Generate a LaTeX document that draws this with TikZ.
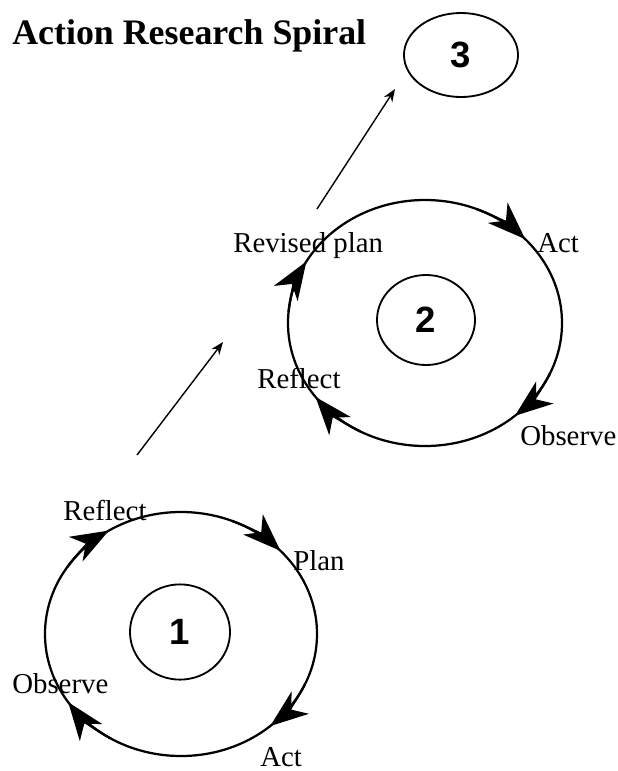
\documentclass[tikz,border=0pt]{standalone}
\usepackage{fontspec}
\setmainfont{Liberation Serif}
\newfontfamily\numfont{Liberation Sans}
\usepackage{tikz}
\usetikzlibrary{
    arrows.meta,
    shapes.geometric,
    positioning
}

\tikzset{
    ring/.style={black, line width=1.6pt},
    cyc/.style={ring, -{Stealth[length=27pt, width=20pt, inset=8pt]}},
    link/.style={black, line width=1pt, -{Stealth[length=9pt, width=7pt]}},
    stage/.style={ellipse, draw, line width=1.3pt, inner sep=0pt, font=\numfont\bfseries\fontsize{26}{30}\selectfont},
    word/.style={inner sep=0pt, anchor=base west, font=\fontsize{20.5}{24}\selectfont}
}

\begin{document}
\begin{tikzpicture}[x=0.025cm, y=-0.025cm]
                        \useasboundingbox (0, 0) rectangle (618, 771);
                        \node[inner sep=0pt, anchor=base west, font=\bfseries\fontsize{25.5}{30}\selectfont] (title) at (12, 44) {Action Research Spiral};
                        % first turn
                        \coordinate (c1) at (181, 634);
                        \draw[ring] (c1) ellipse [x radius=136, y radius=122];
                        \foreach \t in {-43, 49, 146, 238}
                            \draw[cyc] (c1) ++(\t-25:136 and 122) arc[start angle=\t-25, end angle=\t, x radius=136, y radius=122];
                        \node[stage, minimum width=2.5cm, minimum height=2.38cm] (one) at (180, 632) {1};
                        \node[word] (reflect1) at (63, 520) {Reflect};
                        \node[word] (plan1) at (293, 570) {Plan};
                        \node[word] (observe1) at (12, 693) {Observe};
                        \node[word] (act1) at (260, 766) {Act};
                        % second turn
                        \coordinate (c2) at (425, 323);
                        \draw[ring] (c2) ellipse [x radius=137, y radius=123];
                        \foreach \t in {-43, 49, 143, 210}
                            \draw[cyc] (c2) ++(\t-25:137 and 123) arc[start angle=\t-25, end angle=\t, x radius=137, y radius=123];
                        \node[stage, minimum width=2.45cm, minimum height=2.25cm] (two) at (426, 320) {2};
                        \node[word] (revised2) at (233, 252) {Revised plan};
                        \node[word] (act2) at (537, 252) {Act};
                        \node[word] (reflect2) at (257, 388) {Reflect};
                        \node[word] (observe2) at (520, 445) {Observe};
                        % third turn
                        \node[stage, minimum width=2.85cm, minimum height=2.1cm] (three) at (461, 55) {3};
                        % steps between turns
                        \coordinate (s1) at (137, 455);
                        \coordinate (e1) at (223, 342);
                        \coordinate (s2) at (317, 209);
                        \coordinate (e2) at (395, 89);
                        \draw[link] (s1) -- (e1);
                        \draw[link] (s2) -- (e2);
                    \end{tikzpicture}
\end{document}
